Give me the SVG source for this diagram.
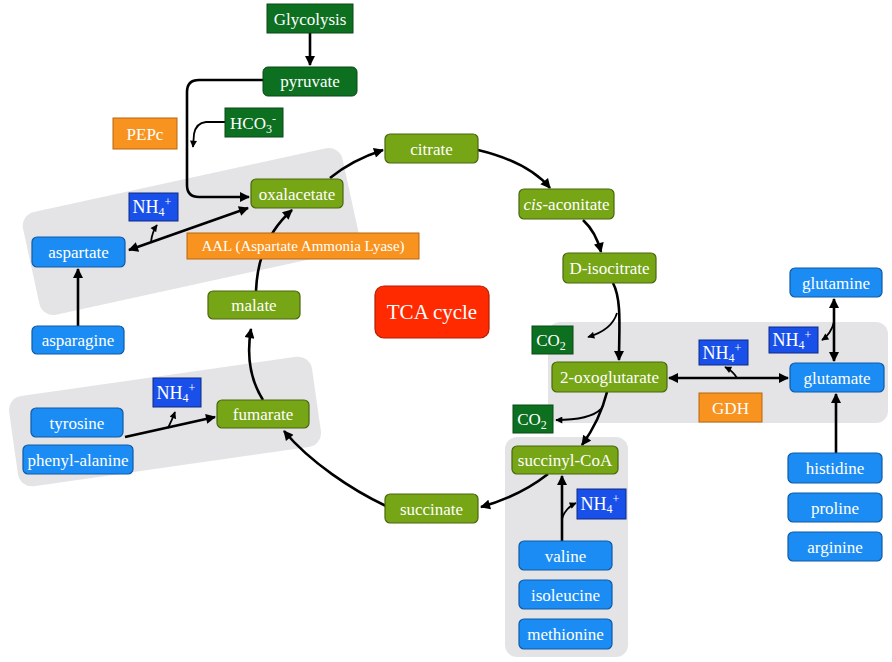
<svg xmlns="http://www.w3.org/2000/svg" width="892" height="662" viewBox="0 0 892 662">
<style>
text{font-family:"Liberation Serif","Times New Roman",serif;font-size:17px;fill:#fff;text-anchor:middle}
.dg{fill:#0d6f20;stroke:#0a4a14;stroke-width:1}
.tg{fill:#76a516;stroke:#4a670e;stroke-width:1.2}
.bl{fill:#1a8cf3;stroke:#0f5aa6;stroke-width:1.2}
.nh{fill:#1a50ea;stroke:#0c2a86;stroke-width:1}
.or{fill:#f7931e;stroke:#b8650c;stroke-width:1}
.gray{fill:#e4e4e7}
.c{fill:none;stroke:#000;stroke-width:2.6}
.cs{fill:none;stroke:#000;stroke-width:1.8}
.sub{font-size:12px}
.nht{font-size:18px}
</style>
<defs>
<marker id="ah" viewBox="0 0 10 10" refX="9" refY="5" markerWidth="12" markerHeight="10" markerUnits="userSpaceOnUse" orient="auto-start-reverse"><path d="M0,0 L10,5 L0,10 z" fill="#000"/></marker>
<marker id="as" viewBox="0 0 10 10" refX="9" refY="5" markerWidth="8" markerHeight="7" markerUnits="userSpaceOnUse" orient="auto-start-reverse"><path d="M0,0 L10,5 L0,10 z" fill="#000"/></marker>
</defs>
<rect width="892" height="662" fill="#fff"/>
<g id="backgrounds">
<rect class="gray" x="27.5" y="179" width="327" height="105" rx="14" transform="rotate(-12.3 191 231.5)"/>
<rect class="gray" x="12" y="376" width="306" height="91" rx="14" transform="rotate(-8.1 165 421.5)"/>
<rect class="gray" x="548" y="322" width="340" height="101" rx="12"/>
<rect class="gray" x="505" y="437" width="123" height="220" rx="12"/>
</g>
<g id="connectors">
<path class="c" d="M310,33 L310,65" marker-end="url(#ah)"/>
<path class="c" d="M263,80 L199,80 Q187,80 187,92 L187,185 Q187,197 199,197 L249,197" marker-end="url(#ah)"/>
<path class="cs" d="M225,122 L206,122 Q196,123 194,134 L193,147" marker-end="url(#as)"/>
<path class="c" d="M330,178 Q352,160 383,150" marker-end="url(#ah)"/>
<path class="c" d="M478,150 Q528,162 550,188" marker-end="url(#ah)"/>
<path class="c" d="M583,220 Q596,232 601,252" marker-end="url(#ah)"/>
<path class="c" d="M613,283 C622,300 619,330 619,360" marker-end="url(#ah)"/>
<path class="cs" d="M617,313 Q612,330 588,337" marker-end="url(#as)"/>
<path class="c" d="M607,392 Q600,420 582,445" marker-end="url(#ah)"/>
<path class="cs" d="M601,409 Q590,420 556,420" marker-end="url(#as)"/>
<path class="c" d="M548,474 Q520,496 481,507" marker-end="url(#ah)"/>
<path class="c" d="M386,506 C352,490 310,462 284,431" marker-end="url(#ah)"/>
<path class="c" d="M263,400 Q244,370 251,329" marker-end="url(#ah)"/>
<path class="c" d="M256,291 Q258,240 292,210" marker-end="url(#ah)"/>
<path class="c" d="M129,250 L248,208" marker-start="url(#ah)" marker-end="url(#ah)"/>
<path class="cs" d="M151,242 Q152,232 157,225" marker-end="url(#as)"/>
<path class="c" d="M78,326 L78,269" marker-end="url(#ah)"/>
<path class="c" d="M125,437 L215,417" marker-end="url(#ah)"/>
<path class="cs" d="M168,428 Q172,420 175,412" marker-end="url(#as)"/>
<path class="c" d="M669,378 L788,378" marker-start="url(#ah)" marker-end="url(#ah)"/>
<path class="cs" d="M737,378 Q733,371 725,367" marker-end="url(#as)"/>
<path class="c" d="M834,299 L834,361" marker-start="url(#ah)" marker-end="url(#ah)"/>
<path class="cs" d="M834,322 Q831,334 822,340" marker-end="url(#as)"/>
<path class="c" d="M836,453 L836,394" marker-end="url(#ah)"/>
<path class="c" d="M562,541 L562,476" marker-end="url(#ah)"/>
<path class="cs" d="M562,519 Q565,508 576,503" marker-end="url(#as)"/>
</g>
<g id="glycolysis"><rect class="dg" x="267" y="4" width="86" height="29"/><text x="310" y="24.5">Glycolysis</text></g>
<g id="pyruvate"><rect class="dg" x="263" y="67" width="94" height="29" rx="5"/><text x="310" y="87">pyruvate</text></g>
<g id="hco3"><rect class="dg" x="225" y="108" width="58" height="29"/><text x="253" y="128.5">HCO<tspan class="sub" dy="4">3</tspan><tspan class="sub" dy="-10">-</tspan></text></g>
<g id="pepc"><rect class="or" x="113" y="118" width="64" height="31"/><text x="145" y="139.5">PEPc</text></g>
<g id="oxalacetate"><rect class="tg" x="251" y="179" width="92" height="29" rx="5"/><text x="297" y="199.5">oxalacetate</text></g>
<g id="citrate"><rect class="tg" x="385" y="134" width="93" height="29" rx="5"/><text x="431.5" y="154.5">citrate</text></g>
<g id="cis-aconitate"><rect class="tg" x="519" y="189" width="95" height="30" rx="5"/><text x="566.5" y="210"><tspan font-style="italic">cis</tspan>-aconitate</text></g>
<g id="d-isocitrate"><rect class="tg" x="563" y="253" width="93" height="30" rx="5"/><text x="609.5" y="274">D-isocitrate</text></g>
<g id="co2-a"><rect class="dg" x="532" y="326" width="41" height="28"/><text x="551" y="346">CO<tspan class="sub" dy="4">2</tspan></text></g>
<g id="oxoglutarate"><rect class="tg" x="552" y="362" width="115" height="30" rx="5"/><text x="609.5" y="383">2-oxoglutarate</text></g>
<g id="co2-b"><rect class="dg" x="513" y="405" width="40" height="28"/><text x="532" y="425">CO<tspan class="sub" dy="4">2</tspan></text></g>
<g id="succinyl-coa"><rect class="tg" x="512" y="446" width="106" height="28" rx="5"/><text x="565" y="466">succinyl-CoA</text></g>
<g id="succinate"><rect class="tg" x="385" y="494" width="93" height="29" rx="5"/><text x="431.5" y="514.5">succinate</text></g>
<g id="fumarate"><rect class="tg" x="217" y="400" width="92" height="28" rx="5"/><text x="263" y="420">fumarate</text></g>
<g id="malate"><rect class="tg" x="208" y="291" width="92" height="28" rx="5"/><text x="254" y="311">malate</text></g>
<g id="aal"><rect class="or" x="187" y="233" width="232" height="26"/><text x="303" y="251" style="font-size:15px">AAL (Aspartate Ammonia Lyase)</text></g>
<g id="tca"><rect x="375" y="286" width="114" height="52" rx="9" fill="#ff2a00" stroke="#b51d00" stroke-width="1.2"/><text x="432" y="319" style="font-size:21px">TCA cycle</text></g>
<g id="nh4-asp"><rect class="nh" x="129" y="193" width="49" height="28"/><text class="nht" x="152" y="213">NH<tspan class="sub" dy="3">4</tspan><tspan class="sub" dy="-10">+</tspan></text></g>
<g id="aspartate"><rect class="bl" x="32" y="237" width="93" height="30" rx="5"/><text x="78.5" y="258">aspartate</text></g>
<g id="asparagine"><rect class="bl" x="32" y="326" width="92" height="28" rx="5"/><text x="78" y="346">asparagine</text></g>
<g id="nh4-fum"><rect class="nh" x="153" y="378" width="48" height="29"/><text class="nht" x="176" y="398.5">NH<tspan class="sub" dy="3">4</tspan><tspan class="sub" dy="-10">+</tspan></text></g>
<g id="tyrosine"><rect class="bl" x="31" y="408" width="92" height="29" rx="5"/><text x="77" y="428.5">tyrosine</text></g>
<g id="phenylalanine"><rect class="bl" x="23" y="445" width="110" height="29" rx="5"/><text x="78" y="465.5">phenyl-alanine</text></g>
<g id="nh4-gdh"><rect class="nh" x="699" y="340" width="49" height="25"/><text class="nht" x="722" y="358.5">NH<tspan class="sub" dy="3">4</tspan><tspan class="sub" dy="-10">+</tspan></text></g>
<g id="gdh"><rect class="or" x="699" y="393" width="63" height="29"/><text x="730.5" y="413.5">GDH</text></g>
<g id="glutamate"><rect class="bl" x="790" y="363" width="94" height="29" rx="5"/><text x="837" y="383.5">glutamate</text></g>
<g id="glutamine"><rect class="bl" x="790" y="268" width="92" height="29" rx="5"/><text x="836" y="288.5">glutamine</text></g>
<g id="nh4-gln"><rect class="nh" x="769" y="327" width="49" height="26"/><text class="nht" x="792" y="345.5">NH<tspan class="sub" dy="3">4</tspan><tspan class="sub" dy="-10">+</tspan></text></g>
<g id="histidine"><rect class="bl" x="788" y="453" width="94" height="30" rx="5"/><text x="835" y="474">histidine</text></g>
<g id="proline"><rect class="bl" x="788" y="493" width="94" height="29" rx="5"/><text x="835" y="513.5">proline</text></g>
<g id="arginine"><rect class="bl" x="788" y="532" width="94" height="29" rx="5"/><text x="835" y="552.5">arginine</text></g>
<g id="nh4-val"><rect class="nh" x="577" y="489" width="49" height="30"/><text class="nht" x="600" y="509.5">NH<tspan class="sub" dy="3">4</tspan><tspan class="sub" dy="-10">+</tspan></text></g>
<g id="valine"><rect class="bl" x="519" y="541" width="93" height="29" rx="5"/><text x="565.5" y="561.5">valine</text></g>
<g id="isoleucine"><rect class="bl" x="519" y="580" width="93" height="29" rx="5"/><text x="565.5" y="600.5">isoleucine</text></g>
<g id="methionine"><rect class="bl" x="519" y="619" width="93" height="30" rx="5"/><text x="565.5" y="640">methionine</text></g>
</svg>
